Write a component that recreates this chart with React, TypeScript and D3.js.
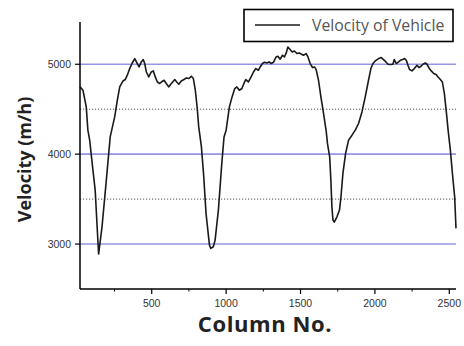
import React from "react";
import * as d3 from "d3";

// Column positions along the road profile
const columns = [
  18, 38, 60, 71, 83, 105, 120, 143, 166, 195, 221, 251, 269, 285, 307, 322, 336, 352, 369, 386,
  403, 415, 430, 443, 453, 464, 480, 497, 511, 524, 538, 554, 565, 583, 598, 614, 632, 655, 668, 682,
  699, 717, 733, 751, 766, 780, 793, 805, 816, 834, 849, 865, 888, 897, 914, 926, 948, 971, 986, 1000,
  1022, 1040, 1058, 1072, 1089, 1106, 1121, 1132, 1150, 1168, 1184, 1200, 1217, 1229, 1244, 1258, 1274, 1289, 1303, 1318,
  1336, 1348, 1363, 1379, 1392, 1404, 1415, 1430, 1444, 1459, 1476, 1491, 1507, 1520, 1538, 1550, 1565, 1581, 1594, 1605,
  1621, 1637, 1655, 1673, 1681, 1696, 1704, 1711, 1718, 1727, 1745, 1762, 1772, 1785, 1803, 1823, 1846, 1868, 1890, 1913,
  1935, 1957, 1973, 1987, 2002, 2025, 2043, 2058, 2074, 2088, 2103, 2121, 2130, 2144, 2159, 2171, 2186, 2200, 2211, 2222,
  2233, 2249, 2265, 2283, 2296, 2310, 2323, 2339, 2350, 2366, 2379, 2395, 2411, 2424, 2440, 2453, 2467, 2480, 2492, 2507,
  2525, 2536, 2545,
];

// Vehicle velocity (m/h) at each column
const velocity = [
  4748, 4711, 4526, 4267, 4156, 3822, 3600, 2889, 3192, 3711, 4192, 4414, 4600, 4748, 4814, 4830, 4878, 4952, 5014, 5063,
  5008, 4970, 5026, 5052, 5008, 4914, 4859, 4914, 4926, 4859, 4803, 4786, 4803, 4822, 4786, 4748, 4786, 4830, 4803, 4778,
  4814, 4830, 4848, 4841, 4867, 4841, 4711, 4526, 4303, 4081, 3767, 3341, 2989, 2952, 2970, 3044, 3378, 3897, 4192, 4267,
  4526, 4637, 4730, 4748, 4711, 4730, 4792, 4830, 4803, 4859, 4914, 4952, 4933, 4970, 5008, 5022, 5014, 5026, 5008, 5022,
  5081, 5089, 5056, 5100, 5081, 5126, 5192, 5163, 5137, 5148, 5119, 5126, 5111, 5100, 5119, 5081, 5008, 4963, 4970, 4941,
  4822, 4637, 4452, 4250, 4119, 3970, 3711, 3414, 3267, 3244, 3303, 3378, 3526, 3786, 4008, 4156, 4211, 4267, 4341, 4470,
  4637, 4822, 4952, 5008, 5037, 5063, 5074, 5052, 5026, 5000, 4997, 5000, 5052, 5008, 5026, 5044, 5052, 5063, 5044, 4989,
  4941, 4926, 4952, 4989, 4963, 4978, 5000, 5014, 5000, 4952, 4926, 4897, 4886, 4859, 4830, 4803, 4674, 4470, 4267, 4044,
  3711, 3526, 3174,
];

const xTicks = [500, 1000, 1500, 2000, 2500];
const xMinorTicks = [250, 750, 1250, 1750, 2250];
const yTicks = [3000, 4000, 5000];
const yDottedLines = [3500, 4500];

const seriesName = "Velocity of Vehicle";
const xTitle = "Column No.";
const yTitle = "Velocity (m/h)";

const W = 464;
const H = 346;
const plot = { left: 80, right: 456, top: 22, bottom: 289 };

export default function App() {
  const x = d3.scaleLinear().domain([18, 2545]).range([plot.left, plot.right]);
  const y = d3.scaleLinear().domain([2500, 5470]).range([plot.bottom, plot.top]);

  const points: [number, number][] = columns.map((c, i) => [c, velocity[i]]);
  const line = d3
    .line<[number, number]>()
    .x((d) => x(d[0]))
    .y((d) => y(d[1]))
    .curve(d3.curveLinear);

  const tickFont = "'Liberation Sans', Arial, sans-serif";
  const titleFont = "'Open Sans', 'DejaVu Sans', sans-serif";

  return (
    <svg
      width={W}
      height={H}
      viewBox={`0 0 ${W} ${H}`}
      style={{ position: "absolute", left: 0, top: 0, background: "#fff" }}
    >
      {/* horizontal reference lines */}
      {yTicks.map((t) => (
        <line
          key={`g${t}`}
          x1={plot.left}
          x2={plot.right}
          y1={y(t)}
          y2={y(t)}
          stroke="#9595e6"
          strokeWidth={1.6}
        />
      ))}
      {yDottedLines.map((t) => (
        <line
          key={`d${t}`}
          x1={plot.left}
          x2={plot.right}
          y1={y(t)}
          y2={y(t)}
          stroke="#555"
          strokeWidth={1}
          strokeDasharray="1.2,1.8"
        />
      ))}

      {/* data line */}
      <path
        d={line(points) ?? ""}
        fill="none"
        stroke="#1a1a1a"
        strokeWidth={1.6}
        strokeLinejoin="round"
      />

      {/* axes */}
      <line x1={plot.left} x2={plot.left} y1={plot.top} y2={plot.bottom} stroke="#000" strokeWidth={1.5} />
      <line x1={plot.left} x2={plot.right} y1={plot.bottom} y2={plot.bottom} stroke="#000" strokeWidth={1.5} />

      {yTicks.map((t) => (
        <g key={`yt${t}`}>
          <line x1={plot.left - 5} x2={plot.left} y1={y(t)} y2={y(t)} stroke="#000" strokeWidth={1.2} />
          <text
            x={plot.left - 9}
            y={y(t)}
            dy="0.35em"
            textAnchor="end"
            fontFamily={tickFont}
            fontSize={10.5}
            fill="#333"
          >
            {t}
          </text>
        </g>
      ))}

      {xTicks.map((t) => (
        <g key={`xt${t}`}>
          <line x1={x(t)} x2={x(t)} y1={plot.bottom} y2={plot.bottom + 5} stroke="#000" strokeWidth={1.2} />
          <text
            x={x(t)}
            y={307}
            textAnchor="middle"
            fontFamily={tickFont}
            fontSize={10.5}
            fill="#333"
          >
            {t}
          </text>
        </g>
      ))}
      {xMinorTicks.map((t) => (
        <line key={`xm${t}`} x1={x(t)} x2={x(t)} y1={plot.bottom} y2={plot.bottom + 2.5} stroke="#000" strokeWidth={1} />
      ))}

      {/* axis titles */}
      <text
        x={265}
        y={332}
        textAnchor="middle"
        fontFamily={titleFont}
        fontWeight="bold"
        fontSize={22}
        letterSpacing={0.6}
        fill="#222"
      >
        {xTitle}
      </text>
      <text
        transform={`translate(31,${(93 + 226) / 2}) rotate(-90)`}
        textAnchor="middle"
        fontFamily={titleFont}
        fontWeight="bold"
        fontSize={18}
        fill="#222"
      >
        {yTitle}
      </text>

      {/* legend */}
      <rect x={244} y={9.5} width={209} height={32} fill="#fff" stroke="#000" strokeWidth={1.6} />
      <line x1={255} x2={300} y1={25} y2={25} stroke="#1a1a1a" strokeWidth={1.5} />
      <text x={312} y={31} fontFamily={titleFont} fontSize={15.8} fill="#555">
        {seriesName}
      </text>
    </svg>
  );
}
